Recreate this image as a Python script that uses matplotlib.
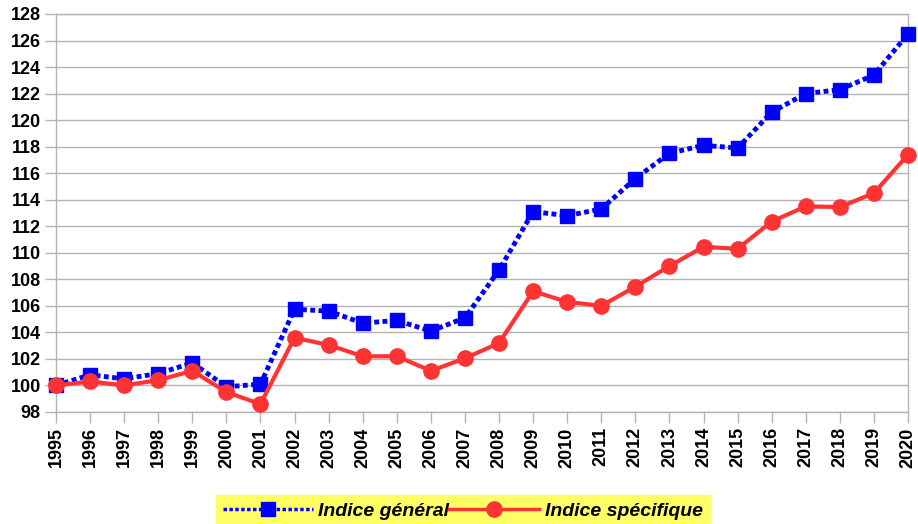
import matplotlib.pyplot as plt

plt.rcParams['font.family'] = ['Liberation Sans', 'DejaVu Sans']

years = list(range(1995, 2021))
indice_general = [100.0, 100.8, 100.5, 100.9, 101.7, 99.9, 100.1, 105.75, 105.6, 104.7,
                  104.9, 104.1, 105.1, 108.7, 113.1, 112.8, 113.3, 115.6, 117.5, 118.1,
                  117.9, 120.6, 122.0, 122.3, 123.4, 126.5]
indice_specifique = [100.0, 100.3, 100.0, 100.4, 101.1, 99.5, 98.6, 103.6, 103.05, 102.2,
                     102.2, 101.1, 102.05, 103.2, 107.1, 106.3, 106.0, 107.45, 109.0, 110.45,
                     110.3, 112.35, 113.5, 113.45, 114.5, 117.4]
y_ticks = list(range(98, 129, 2))

fig = plt.figure(figsize=(9.18, 5.24), dpi=100)
ax = fig.add_axes([56 / 918, 1 - 412 / 524, 852 / 918, 398 / 524])

ax.plot(years, indice_general, color='#0000ff', linestyle=(0, (1, 0.7)), linewidth=3.5,
        marker='s', markersize=10, label='Indice général', clip_on=False, zorder=3)
ax.plot(years, indice_specifique, color='#ff3333', linestyle='-', linewidth=3,
        marker='o', markersize=11, label='Indice spécifique', clip_on=False, zorder=4)

ax.set_xlim(1995, 2020)
ax.set_ylim(98, 128)
ax.set_xticks(years)
ax.set_xticklabels([str(y) for y in years], rotation=90, fontsize=13, fontweight='bold')
ax.set_yticks(y_ticks)
ax.set_yticklabels([str(v) for v in y_ticks], fontsize=13, fontweight='bold')

ax.grid(axis='y', color='#b3b3b3', linewidth=1)
ax.set_axisbelow(True)
for s in ax.spines.values():
    s.set_color('#b3b3b3')
    s.set_linewidth(1)
ax.tick_params(axis='both', color='#b3b3b3', length=8, width=1, pad=3)

leg = fig.legend(loc='lower center', bbox_to_anchor=(463 / 918, -0.005), ncol=2,
                 frameon=True, fancybox=False, handlelength=4.6, handletextpad=0.3,
                 columnspacing=0.0, borderpad=0.35, borderaxespad=0.0,
                 prop={'size': 14, 'weight': 'bold', 'style': 'italic'})
leg.get_frame().set_facecolor('#ffff66')
leg.get_frame().set_edgecolor('#ffff66')
leg.get_frame().set_alpha(1)
for h in leg.get_lines():
    h.set_linewidth(2.5)

fig.savefig('out.png', dpi=100)
